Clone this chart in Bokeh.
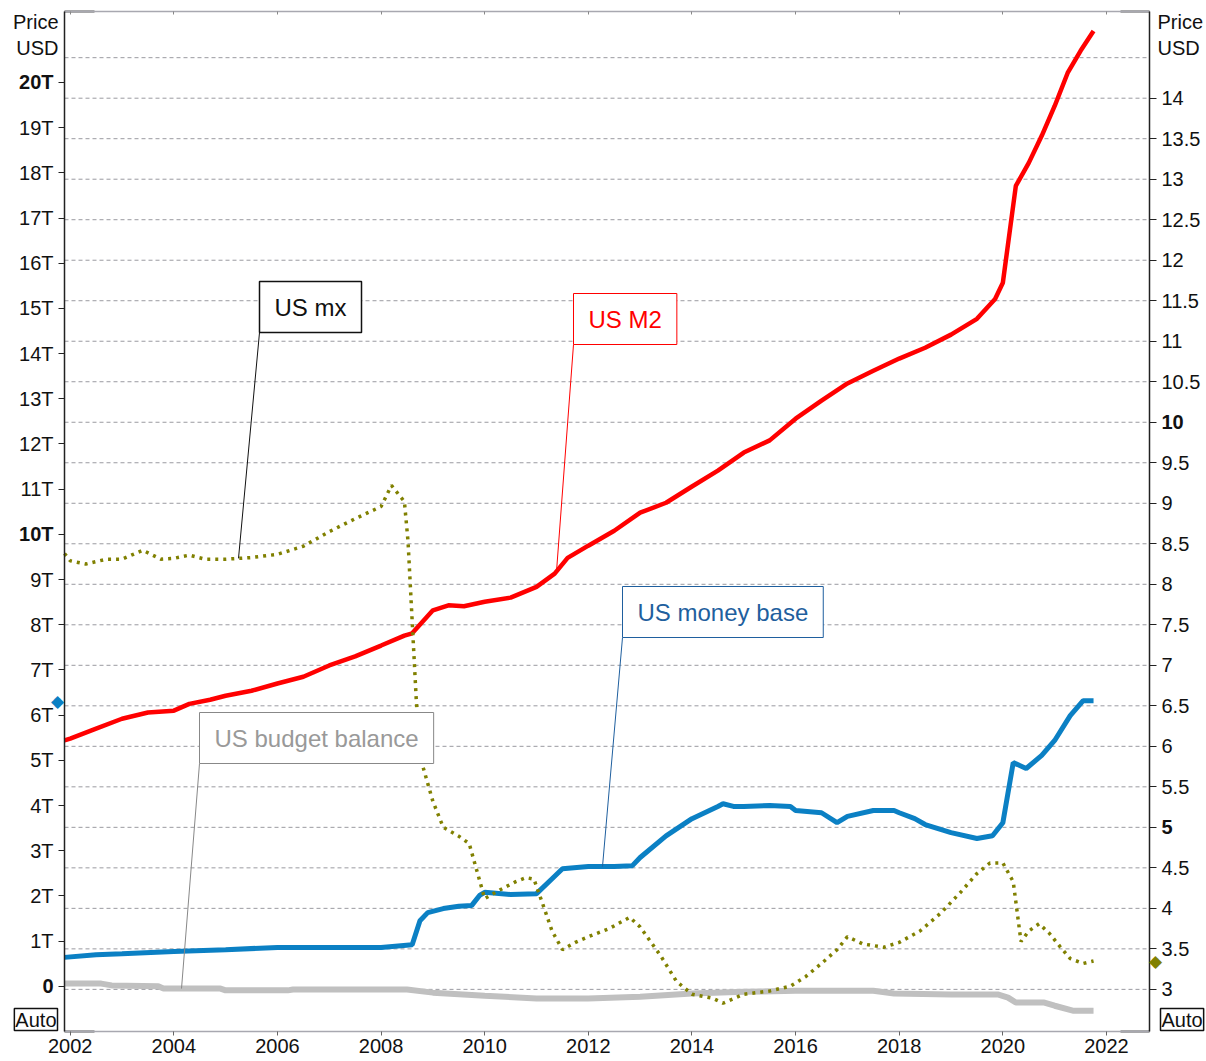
import numpy as np
from bokeh.plotting import figure
from bokeh.models import Range1d, LinearAxis, FixedTicker, Label
from bokeh.embed import file_html
from bokeh.resources import INLINE

# ---------------- data ----------------
# US M2 (trillions USD, left axis)
m2_years = [2001.89, 2002.0, 2002.5, 2003.0, 2003.5, 2004.0, 2004.3, 2004.7, 2005.0,
            2005.5, 2006.0, 2006.5, 2007.0, 2007.5, 2008.0, 2008.45, 2008.6, 2009.0, 2009.3,
            2009.6, 2010.0, 2010.5, 2011.0, 2011.35, 2011.6, 2012.0, 2012.5, 2013.0, 2013.5,
            2014.0, 2014.5, 2015.0, 2015.5, 2016.0, 2016.5, 2017.0, 2017.5, 2018.0, 2018.5,
            2019.0, 2019.5, 2019.85, 2020.0, 2020.25, 2020.5, 2020.75, 2021.0, 2021.25, 2021.5,
            2021.75]
m2_vals = [5.44, 5.48, 5.70, 5.92, 6.06, 6.10, 6.25, 6.34, 6.43,
           6.54, 6.70, 6.85, 7.10, 7.30, 7.54, 7.76, 7.81, 8.32, 8.43,
           8.41, 8.51, 8.60, 8.84, 9.13, 9.48, 9.75, 10.08, 10.48, 10.70,
           11.06, 11.41, 11.81, 12.08, 12.56, 12.96, 13.34, 13.62, 13.89, 14.13,
           14.42, 14.77, 15.21, 15.57, 17.71, 18.22, 18.82, 19.48, 20.21, 20.70,
           21.14]

# US money base (trillions USD, left axis)
base_years = [2001.89, 2002.5, 2003.0, 2004.0, 2005.0, 2006.0, 2007.0, 2008.0, 2008.6,
              2008.75, 2008.9, 2009.2, 2009.5, 2009.75, 2009.9, 2010.0, 2010.5, 2011.0, 2011.3,
              2011.5, 2012.0, 2012.5, 2012.85, 2013.0, 2013.5, 2014.0, 2014.5, 2014.6, 2014.8,
              2015.0, 2015.5, 2015.9, 2016.0, 2016.5, 2016.8, 2017.0, 2017.5, 2017.9, 2018.0,
              2018.3, 2018.5, 2019.0, 2019.5, 2019.8, 2020.0, 2020.2, 2020.45, 2020.75, 2021.0,
              2021.3, 2021.55, 2021.75]
base_vals = [0.64, 0.70, 0.72, 0.77, 0.81, 0.86, 0.86, 0.86, 0.92,
             1.45, 1.63, 1.72, 1.77, 1.79, 2.01, 2.08, 2.03, 2.05, 2.38,
             2.60, 2.65, 2.65, 2.67, 2.85, 3.33, 3.71, 3.98, 4.04, 3.98,
             3.98, 4.00, 3.98, 3.89, 3.84, 3.62, 3.76, 3.89, 3.89, 3.84,
             3.71, 3.58, 3.40, 3.27, 3.33, 3.62, 4.95, 4.82, 5.11, 5.44,
             5.99, 6.32, 6.32]

# US budget balance (trillions USD, left axis)
budget_years = [2001.89, 2002.6, 2002.8, 2003.7, 2003.8, 2004.9, 2005.0, 2006.2, 2006.3, 2008.5,
                2009.0, 2010.0, 2011.0, 2012.0, 2013.0, 2014.0, 2015.0, 2016.0, 2017.5, 2017.9,
                2019.0, 2019.9, 2020.1, 2020.25, 2020.8, 2021.0, 2021.35, 2021.75]
budget_vals = [0.06, 0.06, 0.02, 0.00, -0.05, -0.05, -0.09, -0.09, -0.07, -0.07,
               -0.14, -0.21, -0.27, -0.27, -0.23, -0.16, -0.12, -0.10, -0.10, -0.16,
               -0.18, -0.18, -0.25, -0.36, -0.36, -0.43, -0.54, -0.54]

# US mx (right axis)
mx_years = [2001.89, 2002.0, 2002.3, 2002.7, 2003.0, 2003.4, 2003.75, 2004.0, 2004.3,
            2004.6, 2005.0, 2005.5, 2006.0, 2006.5, 2007.0, 2007.5, 2008.0, 2008.2, 2008.45,
            2008.52, 2008.58, 2008.68, 2008.78, 2009.0, 2009.2, 2009.5, 2009.7, 2009.85, 2010.0,
            2010.3, 2010.6, 2010.8, 2010.95, 2011.1, 2011.3, 2011.5, 2011.75, 2012.0, 2012.4,
            2012.8, 2013.0, 2013.4, 2013.7, 2014.0, 2014.4, 2014.6, 2015.0, 2015.5, 2015.9,
            2016.2, 2016.5, 2016.8, 2017.0, 2017.3, 2017.7, 2018.0, 2018.4, 2018.8, 2019.2,
            2019.5, 2019.75, 2020.0, 2020.2, 2020.35, 2020.5, 2020.7, 2020.9, 2021.1, 2021.3,
            2021.55, 2021.75]
mx_vals = [8.38, 8.29, 8.25, 8.31, 8.31, 8.42, 8.31, 8.32, 8.36,
           8.31, 8.31, 8.33, 8.37, 8.47, 8.65, 8.81, 8.96, 9.22, 9.02,
           8.53, 7.79, 6.56, 5.81, 5.32, 5.00, 4.89, 4.80, 4.46, 4.12,
           4.23, 4.33, 4.38, 4.36, 4.09, 3.72, 3.49, 3.58, 3.65, 3.75,
           3.89, 3.77, 3.41, 3.10, 2.94, 2.89, 2.83, 2.94, 2.98, 3.04,
           3.16, 3.32, 3.49, 3.65, 3.56, 3.52, 3.58, 3.72, 3.94, 4.21,
           4.43, 4.56, 4.56, 4.33, 3.59, 3.72, 3.81, 3.69, 3.53, 3.38,
           3.32, 3.35]

year_ticks = [2002, 2004, 2006, 2008, 2010, 2012, 2014, 2016, 2018, 2020, 2022]
left_ticks = list(range(0, 21))
left_tick_labels = ["0", "1T", "2T", "3T", "4T", "5T", "6T", "7T", "8T", "9T", "10T",
                    "11T", "12T", "13T", "14T", "15T", "16T", "17T", "18T", "19T", "20T"]
left_bold = [0, 10, 20]
right_ticks = [3, 3.5, 4, 4.5, 5, 5.5, 6, 6.5, 7, 7.5, 8, 8.5, 9, 9.5, 10, 10.5, 11,
               11.5, 12, 12.5, 13, 13.5, 14]
right_tick_labels = ["3", "3.5", "4", "4.5", "5", "5.5", "6", "6.5", "7", "7.5", "8", "8.5",
                     "9", "9.5", "10", "10.5", "11", "11.5", "12", "12.5", "13", "13.5", "14"]
right_bold = [5, 10]
grid_ticks = right_ticks + [14.5]

# ---------------- layout ----------------
# visible plot box (data limits) and its place on the page
X0, X1 = 2001.89, 2022.83
R0, R1 = 2.48, 15.07
L0, L1 = -1.0, 21.57
W, H = 1206, 1061
FX0, FX1, FY0, FY1 = 64, 1149, 11, 1031

PXW = (FX1 - FX0) / (X1 - X0)
PYR = (FY1 - FY0) / (R1 - R0)
PYL = (FY1 - FY0) / (L1 - L0)
XA, XB = X0 - FX0 / PXW, X1 + (W - FX1) / PXW
RA, RB = R0 - (H - FY1) / PYR, R1 + FY0 / PYR
LA, LB = L0 - (H - FY1) / PYL, L1 + FY0 / PYL


def dx(px):
    return XA + px / PXW


def dr(py):
    return RB - py / PYR


def dl(py):
    return LB - py / PYL


FONT = "Liberation Sans"
TXT = "#111111"
RED = "#ff0000"
BLUE = "#0b80c4"
BLUE_T = "#1f5f9e"
OLIVE = "#808000"
GREY = "#c0c0c0"
AX_GREY = "#a8a8b0"

p = figure(width=W, height=H, x_range=Range1d(XA, XB), y_range=Range1d(RA, RB),
           output_backend="svg", toolbar_location=None, y_axis_location="right",
           min_border=0)
p.extra_y_ranges = {"left": Range1d(LA, LB)}
p.outline_line_color = None
p.background_fill_color = "white"
p.border_fill_color = "white"
p.xgrid.visible = False
p.ygrid.visible = False

# dashed horizontal grid (right-axis levels) across the plot box
p.segment(x0=[X0] * len(grid_ticks), x1=[X1] * len(grid_ticks), y0=grid_ticks,
          y1=grid_ticks, line_color="#9a9aa0", line_dash="4 3", line_width=1)

# bottom axis
xa = p.xaxis[0]
xa.fixed_location = R0
xa.bounds = (X0, X1)
xa.ticker = FixedTicker(ticks=year_ticks)
xa.axis_line_color = AX_GREY
xa.axis_line_width = 1.5
xa.major_tick_line_color = "#666666"
xa.major_tick_in = 0
xa.major_tick_out = 4
xa.minor_tick_line_color = None
xa.major_label_text_font = FONT
xa.major_label_text_font_size = "20px"
xa.major_label_text_color = TXT
xa.major_label_standoff = 3

# top axis (ticks only)
ta = LinearAxis(ticker=FixedTicker(ticks=year_ticks), fixed_location=R1, bounds=(X0, X1),
                major_label_overrides={t: " " for t in year_ticks},
                major_label_text_font_size="1px",
                major_label_standoff=0, major_tick_in=3, major_tick_out=0,
                axis_line_color=AX_GREY, axis_line_width=1.5,
                major_tick_line_color="#888888", minor_tick_line_color=None)
p.add_layout(ta, "above")

# right axis
ra = p.yaxis[0]
ra.fixed_location = X1
ra.bounds = (R0, R1)
ra.ticker = FixedTicker(ticks=right_ticks)
ra.major_label_overrides = {(int(t) if t == int(t) else t): ("" if t in right_bold else s)
                            for t, s in zip(right_ticks, right_tick_labels)}
ra.axis_line_color = "#222222"
ra.axis_line_width = 1.5
ra.major_tick_line_color = "#222222"
ra.major_tick_in = 0
ra.major_tick_out = 7
ra.minor_tick_line_color = None
ra.major_label_text_font = FONT
ra.major_label_text_font_size = "20px"
ra.major_label_text_color = TXT
ra.major_label_standoff = 5

# left axis
la = LinearAxis(y_range_name="left", ticker=FixedTicker(ticks=left_ticks),
                fixed_location=X0, bounds=(L0, L1))
la.major_label_overrides = {t: ("" if t in left_bold else s)
                            for t, s in zip(left_ticks, left_tick_labels)}
la.axis_line_color = "#222222"
la.axis_line_width = 1.5
la.major_tick_line_color = "#222222"
la.major_tick_in = 0
la.major_tick_out = 6
la.minor_tick_line_color = None
la.major_label_text_font = FONT
la.major_label_text_font_size = "20px"
la.major_label_text_color = TXT
la.major_label_standoff = 5
p.add_layout(la, "left")

# darker end pieces of the top and bottom frame lines
for yv in (R0, R1):
    p.segment(x0=[X0, X1 - 29 / PXW], x1=[X0 + 30 / PXW, X1], y0=[yv, yv], y1=[yv, yv],
              line_color="#555555", line_width=2)

# ---------------- series ----------------
p.line(budget_years, budget_vals, y_range_name="left", line_color=GREY, line_width=6)
p.line(base_years, base_vals, y_range_name="left", line_color=BLUE, line_width=5)
p.line(m2_years, m2_vals, y_range_name="left", line_color=RED, line_width=4.5)
p.line(mx_years, mx_vals, line_color=OLIVE, line_width=3.5, line_dash="3 5")


def label(text, x, y, rng="default", align="left", baseline="middle", size="20px",
          color=TXT, style="normal", font=FONT, **kw):
    lab = Label(x=x, y=y, y_range_name=rng, text=text, text_align=align,
                text_baseline=baseline, text_font=font, text_font_size=size,
                text_color=color, text_font_style=style, **kw)
    p.add_layout(lab)
    return lab


# bold tick labels
for v in left_bold:
    label(left_tick_labels[left_ticks.index(v)], dx(53), v, rng="left", align="right",
          style="bold")
for v in right_bold:
    label(right_tick_labels[right_ticks.index(v)], dx(1161), v, align="left", style="bold")

# axis titles
for txt, py in (("Price", 21), ("USD", 47)):
    label(txt, dx(58), dr(py), align="right")
    label(txt, dx(1157), dr(py), align="left")

# Auto boxes
for px, anc in ((57, "bottom_right"), (1160, "bottom_left")):
    Lb = Label(x=dx(px), y=dr(1030), text="Auto", anchor=anc, text_font=FONT,
               text_font_size="20px", text_color=TXT, border_line_color="#111111",
               border_line_width=1.5, background_fill_color="white",
               padding=dict(left=1, right=1, top=0, bottom=0))
    p.add_layout(Lb)

# last-value markers
label("\u25c6", dx(57), base_vals[-1], rng="left", align="center", size="17px",
      color=BLUE, font="DejaVu Sans")
label("\u25c6", dx(1155), mx_vals[-1], align="center", size="17px", color=OLIVE,
      font="DejaVu Sans")


# callouts
def callout(text, tcolor, bcolor, bw, bpx, bpy, rng, ex, yrs, vals):
    conv = dr if rng == "default" else dl
    bx, by = dx(bpx), conv(bpy)
    ey = float(np.interp(ex, yrs, vals))
    p.segment(x0=[bx], y0=[by], x1=[ex], y1=[ey], y_range_name=rng,
              line_color=bcolor, line_width=1)
    lab = Label(x=bx, y=by, y_range_name=rng, text=text, anchor="bottom_left",
                text_font=FONT, text_font_size="24px", text_color=tcolor,
                border_line_color=bcolor, border_line_width=bw,
                background_fill_color="white",
                padding=dict(left=15, right=15, top=12, bottom=12))
    p.add_layout(lab)


callout("US mx", "#111111", "#111111", 1.5, 259, 332, "default", dx(238), mx_years, mx_vals)
callout("US M2", RED, RED, 1, 573, 344, "left", dx(556), m2_years, m2_vals)
callout("US money base", BLUE_T, BLUE_T, 1, 622, 637, "left", dx(602), base_years, base_vals)
callout("US budget balance", "#999999", "#888888", 1, 199, 763, "left", dx(181),
        budget_years, budget_vals)

open("out.html", "w").write(file_html(p, INLINE))
